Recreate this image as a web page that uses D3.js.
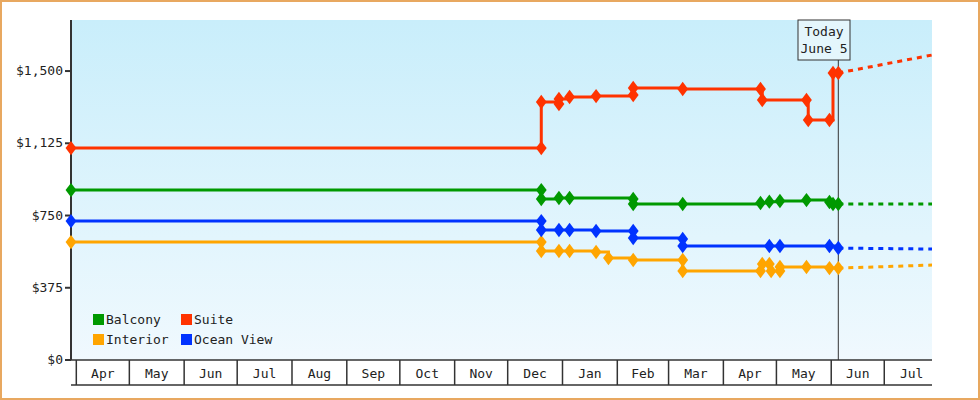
<!DOCTYPE html>
<html><head><meta charset="utf-8">
<script src="https://cdn.jsdelivr.net/npm/d3@7"></script>
<style>body{margin:0;background:#fff}svg{display:block}text{font-family:"DejaVu Sans Mono",monospace;font-size:13px;fill:#222}</style>
</head><body><svg id="c" width="980" height="400"></svg>
<script>
const seriesNames=["Balcony","Suite","Interior","Ocean View"];
const colors=["#009900","#ff3300","#ffa500","#0033ff"];
const yTicks=[0,375,750,1125,1500];
const monthLabels=["Apr","May","Jun","Jul","Aug","Sep","Oct","Nov","Dec","Jan","Feb","Mar","Apr","May","Jun","Jul"];
const balcony=[["2023-03-29",882],["2023-12-20",882],["2023-12-20",836],["2023-12-30",841],["2024-01-05",841],["2024-02-10",836],["2024-02-10",810],["2024-03-09",810],["2024-04-22",815],["2024-04-27",822],["2024-05-03",825],["2024-05-18",830],["2024-05-31",820],["2024-06-02",810],["2024-06-05",810]];
const balconyF=[["2024-06-05",810],["2024-07-28",810]];
const suite=[["2023-03-29",1100],["2023-12-20",1100],["2023-12-20",1339],["2023-12-30",1329],["2023-12-30",1355],["2024-01-05",1365],["2024-01-20",1370],["2024-02-10",1376],["2024-02-10",1412],["2024-03-09",1407],["2024-04-22",1407],["2024-04-23",1350],["2024-05-18",1350],["2024-05-19",1246],["2024-05-31",1246],["2024-06-02",1490],["2024-06-05",1490]];
const suiteF=[["2024-06-05",1490],["2024-07-28",1583]];
const interior=[["2023-03-29",612],["2023-12-20",612],["2023-12-20",566],["2023-12-30",566],["2024-01-05",566],["2024-01-20",561],["2024-01-27",529],["2024-02-10",519],["2024-03-09",519],["2024-03-09",462],["2024-04-22",462],["2024-04-23",498],["2024-04-27",498],["2024-04-28",462],["2024-05-03",462],["2024-05-03",483],["2024-05-18",483],["2024-05-31",477],["2024-06-05",477]];
const interiorF=[["2024-06-05",477],["2024-07-28",493]];
const ocean=[["2023-03-29",721],["2023-12-20",721],["2023-12-20",675],["2023-12-30",675],["2024-01-05",675],["2024-01-20",670],["2024-02-10",670],["2024-02-10",633],["2024-03-09",628],["2024-03-09",592],["2024-04-27",592],["2024-05-03",592],["2024-05-31",592],["2024-06-05",581]];
const oceanF=[["2024-06-05",581],["2024-07-28",576]];

const svg=d3.select("#c");
const p=d3.timeParse("%Y-%m-%d");
const L=71,R=932,T=20,B=360;
const x=d3.scaleTime().domain([p("2023-03-29"),p("2024-07-28")]).range([L,R]);
const y=d3.scaleLinear().domain([0,1765]).range([B,T]);
const defs=svg.append("defs");
const g=defs.append("linearGradient").attr("id","bg").attr("x1",0).attr("x2",0).attr("y1",0).attr("y2",1);
g.append("stop").attr("offset",0).attr("stop-color","#c9eefb");
g.append("stop").attr("offset",1).attr("stop-color","#f0f9fe");
svg.append("rect").attr("x",1).attr("y",1).attr("width",978).attr("height",398).attr("fill","#fff").attr("stroke","#e8a860").attr("stroke-width",2);
svg.append("rect").attr("x",L).attr("y",T).attr("width",R-L).attr("height",B-T).attr("fill","url(#bg)");
// y axis
svg.append("line").attr("x1",L).attr("x2",L).attr("y1",T).attr("y2",B).attr("stroke","#333").attr("stroke-width",2);
yTicks.forEach(v=>{
  svg.append("line").attr("x1",L-6).attr("x2",L).attr("y1",y(v)).attr("y2",y(v)).attr("stroke","#333").attr("stroke-width",2);
  svg.append("text").attr("x",L-8).attr("y",y(v)+4).attr("text-anchor","end").text(d3.format("$,")(v));
});
// x axis cells
const months=d3.timeMonth.range(p("2023-04-01"),p("2024-08-01"));
svg.append("line").attr("x1",L).attr("x2",R).attr("y1",B).attr("y2",B).attr("stroke","#333").attr("stroke-width",1.5);
svg.append("line").attr("x1",L).attr("x2",R).attr("y1",385).attr("y2",385).attr("stroke","#333").attr("stroke-width",1.5);
months.forEach((m,i)=>{
  const xs=x(m);
  if(xs<=R) svg.append("line").attr("x1",xs).attr("x2",xs).attr("y1",B).attr("y2",385).attr("stroke","#333").attr("stroke-width",1.5);
  const nx=x(d3.timeMonth.offset(m,1));
  if(i<monthLabels.length) svg.append("text").attr("x",(xs+Math.min(nx,R+8))/2).attr("y",378).attr("text-anchor","middle").text(monthLabels[i]);
});
// today
const today=p("2024-06-05");
svg.append("line").attr("x1",x(today)).attr("x2",x(today)).attr("y1",T).attr("y2",B).attr("stroke","#333").attr("stroke-width",1);
svg.append("rect").attr("x",798).attr("y",20).attr("width",52).attr("height",40).attr("fill","#e4f6fc").attr("stroke","#333");
svg.append("text").attr("x",824).attr("y",36).attr("text-anchor","middle").text("Today");
svg.append("text").attr("x",824).attr("y",53).attr("text-anchor","middle").text("June 5");
// series
const all=[[balcony,balconyF,0],[suite,suiteF,1],[interior,interiorF,2],[ocean,oceanF,3]];
const line=d3.line().x(d=>x(p(d[0]))).y(d=>y(d[1])).curve(d3.curveStepAfter);
const lineF=d3.line().x(d=>x(p(d[0]))).y(d=>y(d[1]));
const dia=d3.symbol().type(d3.symbolDiamond).size(60);
all.forEach(([s,f,i])=>{
  svg.append("path").attr("d",line(s)).attr("fill","none").attr("stroke",colors[i]).attr("stroke-width",3);
  svg.append("path").attr("d",lineF(f)).attr("fill","none").attr("stroke",colors[i]).attr("stroke-width",3).attr("stroke-dasharray","5,5");
  s.forEach(d=>svg.append("path").attr("d",dia).attr("transform",`translate(${x(p(d[0]))},${y(d[1])}) scale(1.3,1)`).attr("fill",colors[i]));
});
// legend
const lg=[[0,93,320],[1,181,320],[2,93,340],[3,181,340]];
lg.forEach(([i,lx,ly])=>{
  svg.append("rect").attr("x",lx).attr("y",ly-6).attr("width",11).attr("height",11).attr("fill",colors[i]);
  svg.append("text").attr("x",lx+13).attr("y",ly+4).text(seriesNames[i]);
});
</script></body></html>
